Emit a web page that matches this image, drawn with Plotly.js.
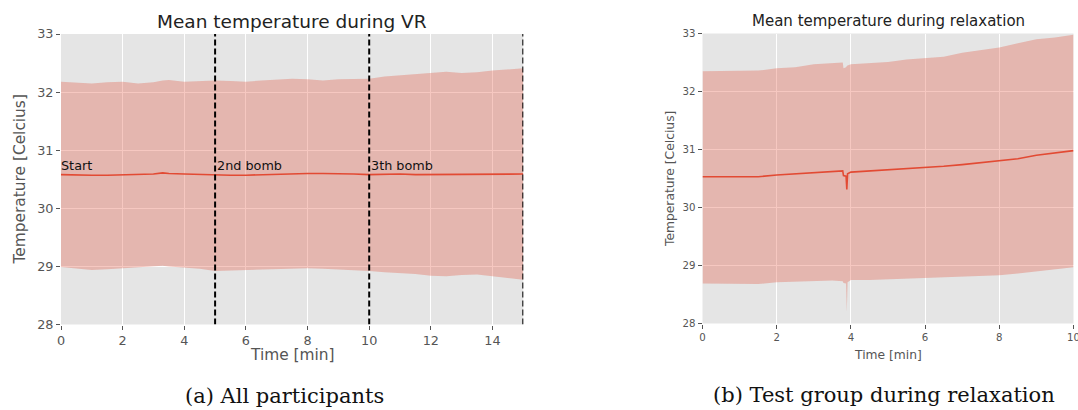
<!DOCTYPE html>
<html>
<head>
<meta charset="utf-8">
<script src="https://cdn.plot.ly/plotly-3.0.1.min.js"></script>
<style>html,body{margin:0;padding:0;background:#fff;}#chart{width:1078px;height:410px;}</style>
</head>
<body>
<div id="chart"></div>
<script>
// ---- Data: (a) All participants, during VR ----
const vrTime = [0,0.5,1,1.5,2,2.5,3,3.3,3.5,4,4.5,5,5.5,6,6.5,7,7.5,8,8.5,9,9.5,10,10.5,11,11.5,12,12.5,13,13.5,14,14.5,15];
const vrMean = [30.58,30.57,30.57,30.57,30.58,30.58,30.59,30.61,30.60,30.59,30.58,30.57,30.57,30.57,30.58,30.59,30.59,30.60,30.60,30.60,30.59,30.58,30.59,30.59,30.58,30.58,30.59,30.59,30.58,30.59,30.59,30.59];
const vrUpper = [32.18,32.16,32.15,32.17,32.18,32.15,32.17,32.20,32.21,32.18,32.19,32.20,32.19,32.18,32.20,32.22,32.23,32.22,32.20,32.22,32.23,32.23,32.27,32.29,32.32,32.34,32.35,32.33,32.34,32.37,32.39,32.41];
const vrLower = [28.99,28.97,28.94,28.95,28.97,28.98,29.01,29.01,29.00,28.98,28.96,28.92,28.93,28.94,28.95,28.95,28.96,28.97,28.96,28.95,28.94,28.92,28.90,28.89,28.87,28.84,28.83,28.85,28.86,28.83,28.80,28.77];
const eventTimes = [0,5,10,15];
const eventLabels = ["Start","2nd bomb","3th bomb",""];
const eventLines = [5,10,15];

// ---- Data: (b) Test group during relaxation ----
const relaxTime = [0,0.5,1,1.5,2,2.5,3,3.5,3.78,3.80,3.87,3.89,3.91,4,4.5,5,5.5,6,6.5,7,7.5,8,8.5,9,9.5,10];
const relaxMean = [30.53,30.53,30.53,30.53,30.56,30.58,30.60,30.62,30.63,30.55,30.54,30.31,30.58,30.61,30.63,30.64,30.66,30.69,30.71,30.74,30.77,30.80,30.84,30.90,30.94,30.98];
const relaxUpper = [32.35,32.35,32.35,32.36,32.40,32.42,32.47,32.49,32.50,32.40,32.42,32.44,32.45,32.47,32.49,32.51,32.55,32.58,32.60,32.67,32.72,32.76,32.83,32.90,32.93,32.98];
const relaxLower = [28.69,28.69,28.69,28.68,28.71,28.72,28.74,28.74,28.73,28.70,28.69,28.20,28.71,28.75,28.75,28.76,28.77,28.78,28.79,28.80,28.81,28.83,28.86,28.90,28.94,28.97];

const titles = ["Mean temperature during VR","Mean temperature during relaxation"];
const captions = ["(a) All participants","(b) Test group during relaxation"];
const xLabel = "Time [min]";
const yLabel = "Temperature [Celcius]";

const RED = "#E24A33";
const FILL = "rgba(226,74,51,0.3)";
const GRAYTXT = "#555555";
const FONT = "DejaVu Sans, sans-serif";

function band(x, up, lo, mean, xa, ya) {
  return [
    {x:x, y:up, xaxis:xa, yaxis:ya, mode:"lines", line:{width:0, color:FILL}, hoverinfo:"skip", showlegend:false},
    {x:x, y:lo, xaxis:xa, yaxis:ya, mode:"lines", line:{width:0, color:FILL}, fill:"tonexty", fillcolor:FILL, hoverinfo:"skip", showlegend:false},
    {x:x, y:mean, xaxis:xa, yaxis:ya, mode:"lines", line:{width:1.6, color:RED}, showlegend:false}
  ];
}

const data = [].concat(
  band(vrTime, vrUpper, vrLower, vrMean, "x", "y"),
  band(relaxTime, relaxUpper, relaxLower, relaxMean, "x2", "y2")
);

function axisX(domain, range, anchor, tickSize) {
  return {
    domain:domain, range:range, anchor:anchor, dtick:2, tick0:0,
    showgrid:true, gridcolor:"#FFFFFF", gridwidth:1, zeroline:false,
    ticks:"outside", ticklen:4, tickwidth:1, tickcolor:GRAYTXT,
    tickfont:{family:FONT, size:tickSize, color:GRAYTXT},
    ticklabeloverflow:"allow",
    showline:false, title:{text:""}
  };
}
function axisY(domain, anchor, tickSize) {
  return {
    domain:domain, range:[28,33], anchor:anchor, dtick:1, tick0:28,
    showgrid:true, gridcolor:"#FFFFFF", gridwidth:1, zeroline:false,
    ticks:"outside", ticklen:4, tickwidth:1, tickcolor:GRAYTXT,
    tickfont:{family:FONT, size:tickSize, color:GRAYTXT},
    showline:false, title:{text:""}
  };
}

const annotations = [];
// subplot titles
annotations.push({xref:"paper", yref:"paper", x:292/1078, y:1-21/410, xanchor:"center", yanchor:"middle", text:titles[0], showarrow:false, font:{family:FONT, size:18.5, color:"#222"}});
annotations.push({xref:"paper", yref:"paper", x:888/1078, y:1-21/410, xanchor:"center", yanchor:"middle", text:titles[1], showarrow:false, font:{family:FONT, size:15, color:"#222"}});
// axis titles
annotations.push({xref:"paper", yref:"paper", x:292/1078, y:1-355/410, xanchor:"center", yanchor:"middle", text:xLabel, showarrow:false, font:{family:FONT, size:15.4, color:GRAYTXT}});
annotations.push({xref:"paper", yref:"paper", x:888/1078, y:1-355/410, xanchor:"center", yanchor:"middle", text:xLabel, showarrow:false, font:{family:FONT, size:12.3, color:GRAYTXT}});
annotations.push({xref:"paper", yref:"paper", x:19.5/1078, y:1-180/410, xanchor:"center", yanchor:"middle", textangle:-90, text:yLabel, showarrow:false, font:{family:FONT, size:15.4, color:GRAYTXT}});
annotations.push({xref:"paper", yref:"paper", x:670/1078, y:1-179/410, xanchor:"center", yanchor:"middle", textangle:-90, text:yLabel, showarrow:false, font:{family:FONT, size:12.3, color:GRAYTXT}});
// event labels
eventTimes.forEach((t,i) => {
  if (!eventLabels[i]) return;
  annotations.push({xref:"x", yref:"y", x:t, y:30.73, xanchor:"left", yanchor:"middle", xshift: i===0 ? -2 : 0, text:eventLabels[i], showarrow:false, font:{family:FONT, size:12.8, color:"#111"}});
});
// captions
annotations.push({xref:"paper", yref:"paper", x:284.5/1078, y:1-396/410, xanchor:"center", yanchor:"middle", text:captions[0], showarrow:false, font:{family:"DejaVu Serif, serif", size:21, color:"#111"}});
annotations.push({xref:"paper", yref:"paper", x:884/1078, y:1-395/410, xanchor:"center", yanchor:"middle", text:captions[1], showarrow:false, font:{family:"DejaVu Serif, serif", size:21, color:"#111"}});

const shapes = eventLines.map(t => ({
  type:"line", xref:"x", yref:"y", x0:t, x1:t, y0:28, y1:33,
  line:{color:"#000", width:2, dash:"6px,3px"}, layer:"above"
}));

const layout = {
  width:1078, height:410,
  margin:{l:0, r:0, t:0, b:0},
  paper_bgcolor:"#FFFFFF", plot_bgcolor:"#E5E5E5",
  showlegend:false,
  xaxis: axisX([61/1078, 523.3/1078], [0,15], "y", 12.8),
  yaxis: axisY([1-324.5/410, 1-34/410], "x", 12.8),
  xaxis2: axisX([702.5/1078, 1073.5/1078], [0,10], "y2", 10.2),
  yaxis2: axisY([1-323.5/410, 1-33.5/410], "x2", 10.2),
  annotations: annotations,
  shapes: shapes
};

Plotly.newPlot("chart", data, layout, {staticPlot:true, displayModeBar:false});
</script>
</body>
</html>
